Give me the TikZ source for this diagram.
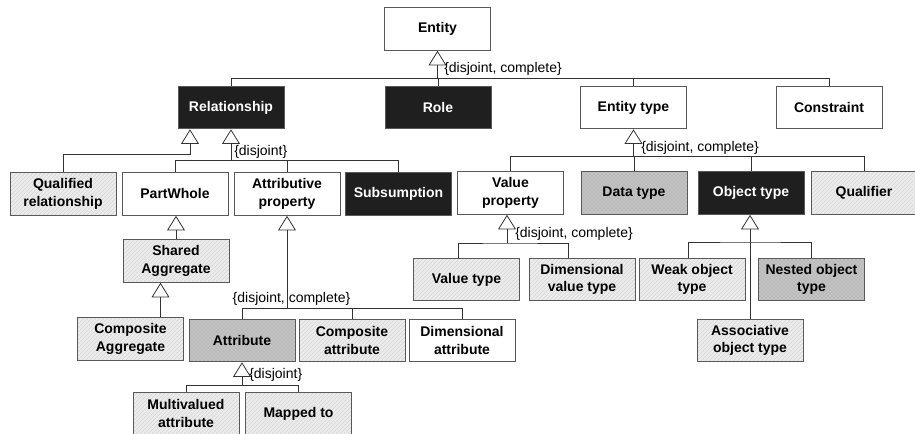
\documentclass[tikz,border=0pt]{standalone}
\usepackage{fontspec}
\setmainfont{Liberation Sans}
\usetikzlibrary{positioning}
\usetikzlibrary{arrows.meta}
\usetikzlibrary{patterns}
\usetikzlibrary{calc}
\tikzset{
    cls/.style={
        draw=black!65,
        line width=0.7pt,
        minimum width=79.5pt,
        minimum height=32pt,
        inner sep=1pt,
        align=center,
        font=\bfseries\fontsize{10.5}{13}\selectfont},
    plain/.style={cls, fill=white},
    dark/.style={cls, fill=black!88, text=white},
    dotty/.style={cls,
        preaction={fill=gray!55},
        pattern=crosshatch dots,
        pattern color=white!85!gray},
    hatch/.style={cls,
        preaction={fill=gray!15},
        pattern=north east lines,
        pattern color=gray!32},
    line/.style={draw=black!80, line width=0.6pt},
    gen/.style={line, -{Triangle[open,length=11pt,width=13.5pt]}},
    note/.style={font=\fontsize{10.5}{12}\selectfont, inner sep=0pt, anchor=west}}

\begin{document}
\begin{tikzpicture}[x=0.75pt,y=-0.75pt]
        \useasboundingbox (0,0) rectangle (915,434);
        \node[plain] (ent) at (437.5,29) {Entity};
        % second row
        \node[dark] (rel) at (231,107.5) {Relationship};
        \node[dark] (role) at (438,107.5) {Role};
        \node[plain] (etype) at (633.5,107.5) {Entity type};
        \node[plain] (constr) at (829,107.5) {Constraint};
        % third row
        \node[hatch] (qrel) at (63,194) {Qualified\\relationship};
        \node[plain] (pw) at (175,194) {PartWhole};
        \node[plain] (attprop) at (287,194) {Attributive\\property};
        \node[dark] (subs) at (398.5,194) {Subsumption};
        \node[plain] (valprop) at (510.5,193) {Value\\property};
        \node[dotty] (dtype) at (634,193) {Data type};
        \node[dark] (otype) at (751,193) {Object type};
        \node[hatch] (qual) at (864,193) {Qualifier};
        % lower rows
        \node[hatch] (shagg) at (176,261) {Shared\\Aggregate};
        \node[hatch] (compagg) at (130.5,339) {Composite\\Aggregate};
        \node[dotty] (attr) at (242,340.5) {Attribute};
        \node[hatch] (compattr) at (352,340.5) {Composite\\attribute};
        \node[plain] (dimattr) at (462,340.5) {Dimensional\\attribute};
        \node[hatch] (mva) at (186,413.5) {Multivalued\\attribute};
        \node[hatch] (mapto) at (298.5,413.5) {Mapped to};
        \node[hatch] (vtype) at (466.5,279.5) {Value type};
        \node[hatch] (dvtype) at (582,279.5) {Dimensional\\value type};
        \node[hatch] (wot) at (692,279.5) {Weak object\\type};
        \node[dotty] (not) at (811.5,279.5) {Nested object\\type};
        \node[hatch] (aot) at (750,340.5) {Associative\\object type};

        \coordinate (je) at (437.5,78);
        \draw[gen] (je) -- (ent.south);
        \foreach \n in {rel,role,etype,constr}
            \draw[line] (\n.north) |- (je);
        \node[note] at (444,69) {\{disjoint, complete\}};

        \coordinate (jq) at (190,154);
        \draw[gen] (qrel.north) |- (jq) -- (jq |- rel.south);
        \coordinate (jr) at (231,160);
        \draw[gen] (jr) -- (rel.south);
        \foreach \n in {pw,attprop,subs}
            \draw[line] (\n.north) |- (jr);
        \node[note] at (234,152) {\{disjoint\}};

        \coordinate (jt) at (633.5,156);
        \draw[gen] (jt) -- (etype.south);
        \foreach \n in {valprop,dtype,otype,qual}
            \draw[line] (\n.north) |- (jt);
        \node[note] at (641,148) {\{disjoint, complete\}};

        \draw[gen] (shagg.north) -- (shagg.north |- pw.south);
        \coordinate (ca) at ($(compagg.north)+(30,0)$);
        \draw[gen] (ca) -- (ca |- shagg.south);

        \coordinate (ja) at (287,308);
        \draw[gen] (ja) -- (attprop.south);
        \foreach \n in {attr,compattr,dimattr}
            \draw[line] (\n.north) |- (ja);
        \node[note, anchor=center] at (291.5,299) {\{disjoint, complete\}};

        \coordinate (jb) at (242,385);
        \draw[gen] (jb) -- (attr.south);
        \foreach \n in {mva,mapto}
            \draw[line] (\n.north) |- (jb);
        \node[note] at (249,375) {\{disjoint\}};

        \coordinate (jv) at (507,243);
        \draw[gen] (jv) -- (jv |- valprop.south);
        \draw[line] ($(vtype.north)+(-8,0)$) |- (jv) -| ($(dvtype.north)+(-14,0)$);
        \node[note] at (515,234) {\{disjoint, complete\}};

        \coordinate (jo) at (751,242);
        \draw[gen] (aot.north) -- (aot.north |- otype.south);
        \draw[line] ($(wot.north)+(-4,0)$) |- (jo) -| (not.north);
    \end{tikzpicture}
\end{document}
